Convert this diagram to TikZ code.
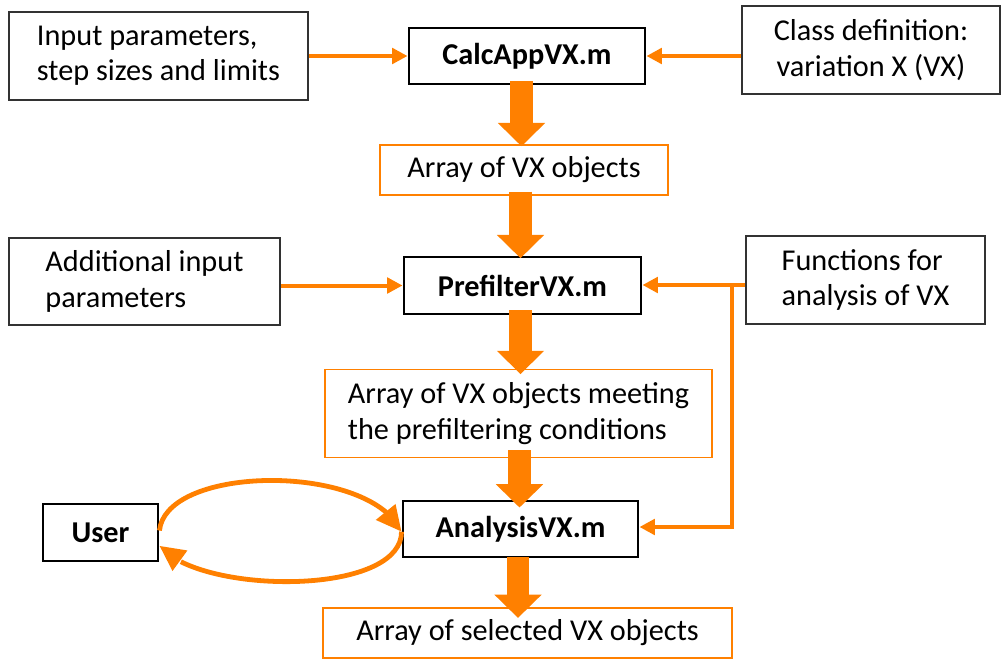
\documentclass[tikz,border=0pt]{standalone}
\usepackage{fontspec}
\setmainfont{Carlito}
\usetikzlibrary{arrows.meta,bending}
\definecolor{org}{RGB}{255,128,0}
\definecolor{dgray}{RGB}{50,50,50}
\tikzset{
  base/.style={inner sep=0pt, fill=white, font=\fontsize{22.7}{26.5}\selectfont},
  plainbox/.style={base, draw=dgray, line width=1.3pt},
  boldbox/.style={base, draw=black, line width=2.2pt, font=\fontsize{22.7}{26.5}\selectfont\bfseries},
  obox/.style={base, draw=org, line width=1.1pt},
  thinarrow/.style={draw=org, line width=3pt, -{Triangle[length=11.5pt,width=11.5pt]}},
  looparrow/.style={draw=org, line width=3.6pt, -{Triangle[length=19pt,width=18pt,flex]}},
  blockarrow/.style={draw=org, line width=17pt, -{Triangle[length=17.5pt,width=34.5pt]}},
}
\begin{document}
\begin{tikzpicture}[x=0.75pt,y=-0.75pt]
\useasboundingbox (0,0) rectangle (1003,660);
% nodes
\node[plainbox, minimum width=299*0.75pt, minimum height=88*0.75pt, align=left] (inp) at (158.5,56) {Input parameters,\\step sizes and limits};
\node[boldbox, minimum width=236*0.75pt, minimum height=56*0.75pt] (calc) at (527,56) {CalcAppVX.m};
\node[plainbox, minimum width=258*0.75pt, minimum height=88*0.75pt, align=center] (cls) at (871,50) {Class definition:\\variation X (VX)};
\node[obox, minimum width=288*0.75pt, minimum height=50*0.75pt] (arr1) at (524,170) {Array of VX objects};
\node[plainbox, minimum width=271*0.75pt, minimum height=87*0.75pt, align=left] (add) at (144.5,281.5) {Additional input\\parameters};
\node[boldbox, minimum width=237*0.75pt, minimum height=57*0.75pt] (pre) at (522.5,285.5) {PrefilterVX.m};
\node[plainbox, minimum width=239*0.75pt, minimum height=88*0.75pt, align=left] (fun) at (865.5,280) {Functions for\\analysis of VX};
\node[obox, minimum width=387*0.75pt, minimum height=88*0.75pt, align=left] (arr2) at (518.5,413.5) {Array of VX objects meeting\\the prefiltering conditions};
\node[boldbox, minimum width=115*0.75pt, minimum height=57*0.75pt] (user) at (100.5,532.5) {User};
\node[boldbox, minimum width=235*0.75pt, minimum height=56*0.75pt] (ana) at (520.5,529) {AnalysisVX.m};
\node[obox, minimum width=409*0.75pt, minimum height=50*0.75pt] (arr3) at (527.5,633) {Array of selected VX objects};
% column coordinates for the block arrows
\coordinate (c1) at (521.5,0);
\coordinate (c2) at (520.5,0);
\coordinate (c3) at (520.5,0);
\coordinate (c4) at (519.5,0);
\coordinate (c5) at (518,0);
\coordinate (br) at (732,285);
% block arrows
\draw[blockarrow, shorten <=-3pt, shorten >=-1.5pt] (calc.south -| c1) -- (arr1.north -| c1);
\draw[blockarrow, shorten <=-3pt, shorten >=-2pt] (arr1.south -| c2) -- (pre.north -| c2);
\draw[blockarrow, shorten <=-4pt, shorten >=-4pt] (pre.south -| c3) -- (arr2.north -| c3);
\draw[blockarrow, shorten <=-6pt, shorten >=-6pt] (arr2.south -| c4) -- (ana.north -| c4);
\draw[blockarrow, shorten <=-1pt, shorten >=-8pt] (ana.south -| c5) -- (arr3.north -| c5);
% thin arrows
\draw[thinarrow] (inp.east) -- (calc.west);
\draw[thinarrow] (calc.east -| cls.west) -- (calc.east);
\draw[thinarrow] (add.east |- pre.west) -- (pre.west);
\draw[thinarrow] (fun.west |- br) -- (br -| pre.east);
\draw[thinarrow] (br) |- ([yshift=1.5pt]ana.east);
% loop
\draw[looparrow] ([yshift=1.5pt]user.east) .. controls +(7,-66) and +(-32,-69) .. ([yshift=-2pt]ana.west);
\draw[looparrow] ([yshift=-2pt]ana.west) .. controls +(0,65) and +(40,49) .. ([yshift=-10pt]user.east);
\end{tikzpicture}
\end{document}
